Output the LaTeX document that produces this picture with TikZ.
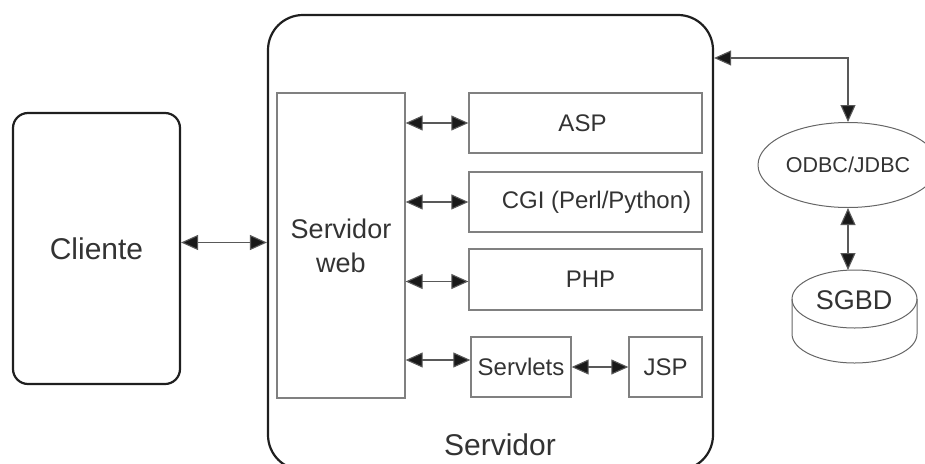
\documentclass[tikz,border=0pt]{standalone}
\usepackage{fontspec}
\setmainfont{Liberation Sans}
\usetikzlibrary{arrows.meta,shapes.geometric}
\begin{document}
\begin{tikzpicture}[x=1pt,y=-1pt,
  outerbox/.style={draw=black!88, line width=2.2pt, rectangle, inner sep=0pt},
  innerbox/.style={draw=black!50, line width=1.3pt, rectangle, inner sep=0pt},
  lbl/.style={text=black!80},
  biarrow/.style={draw=black!65, line width=1.1pt,
    {Triangle[length=17pt,width=15pt,fill=black!90]}-{Triangle[length=17pt,width=15pt,fill=black!90]}},
  big/.style={font=\fontsize{30}{34}\selectfont},
  mid/.style={font=\fontsize{27}{34}\selectfont},
  small/.style={font=\fontsize{24}{28}\selectfont}]
\useasboundingbox (0,0) rectangle (925,463);

% client and server containers
\node[outerbox, rounded corners=15pt, minimum width=167pt, minimum height=271pt,
      lbl, big] (cliente) at (96.5,248.5) {Cliente};
\node[outerbox, rounded corners=35pt, minimum width=445pt, minimum height=455pt]
      (srv) at (490.5,242.5) {};
\node[lbl, big] (srvlabel) at (500,445) {Servidor};

% web server and the technologies it talks to
\node[innerbox, minimum width=128pt, minimum height=305pt, lbl, mid, align=center]
      (web) at (341,245.5) {Servidor\\web};
\node[innerbox, minimum width=233pt, minimum height=60pt, lbl, small]
      (asp) at (585.5,123) {\hspace*{-6pt}ASP};
\node[innerbox, minimum width=233pt, minimum height=60pt, lbl, small]
      (cgi) at (585.5,202) {\hspace*{22pt}CGI (Perl/Python)};
\node[innerbox, minimum width=233pt, minimum height=61pt, lbl, small]
      (php) at (585.5,279.5) {\hspace*{10pt}PHP};
\node[innerbox, minimum width=100pt, minimum height=60pt, lbl, small]
      (srvl) at (521,367) {Servlets};
\node[innerbox, minimum width=73pt, minimum height=60pt, lbl, small]
      (jsp) at (665.5,367) {JSP};

% database side
\node[ellipse, draw=black!60, line width=1pt, minimum width=180pt, minimum height=85pt,
      inner sep=0pt, lbl, font=\fontsize{21.5}{24}\selectfont] (odbc) at (848,165) {ODBC/JDBC};
\draw[draw=black!60, line width=1pt] (854.5,299) ellipse [x radius=62.5, y radius=29];
\draw[draw=black!60, line width=1pt] (792,299) -- (792,334)
      arc[start angle=180, end angle=0, x radius=62.5, y radius=29] -- (917,299);
\node[lbl, mid] (sgbd) at (854,300) {SGBD};
\coordinate (sgbdtop) at (848,270);
\coordinate (dbport) at (713,58);

% connectors
\draw[biarrow] ([yshift=6pt]cliente.east) -- ([yshift=6pt]cliente.east -| srv.west);
\draw[biarrow] (web.east |- asp.west) -- (asp.west);
\draw[biarrow] (web.east |- cgi.west) -- (cgi.west);
\draw[biarrow] ([yshift=-2pt]web.east |- php.west) -- ([yshift=-2pt]php.west);
\draw[biarrow] ([yshift=7pt]web.east |- srvl.west) -- ([yshift=7pt]srvl.west);
\draw[biarrow] (srvl.east) -- (jsp.west);
\draw[biarrow] (srv.east |- dbport) -| (odbc.north);
\draw[biarrow] (odbc.south) -- (odbc.south |- sgbdtop);
\end{tikzpicture}
\end{document}
